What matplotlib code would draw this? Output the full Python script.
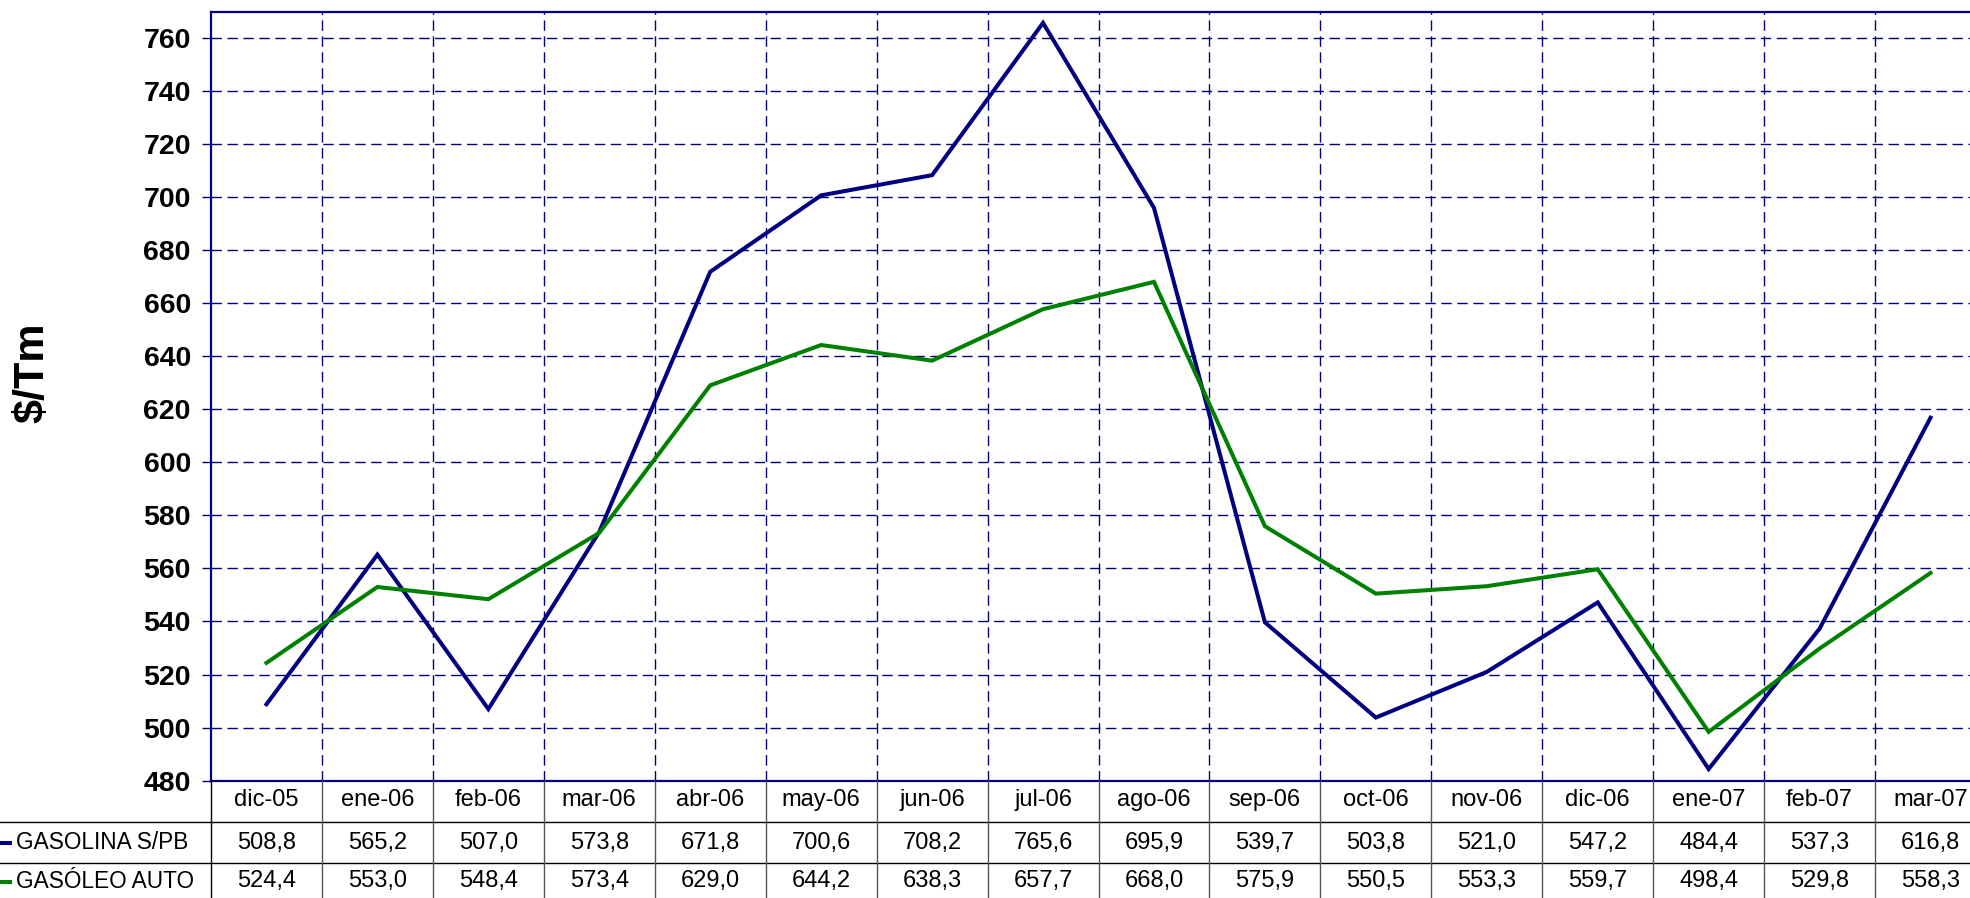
import numpy as np
import matplotlib.pyplot as plt
from matplotlib.lines import Line2D
from matplotlib.transforms import blended_transform_factory

plt.rcParams['font.family'] = ['Liberation Sans', 'DejaVu Sans']

# ───────────────────────────────────────────────────────
# 데이터
months = ["dic-05", "ene-06", "feb-06", "mar-06", "abr-06", "may-06", "jun-06", "jul-06",
          "ago-06", "sep-06", "oct-06", "nov-06", "dic-06", "ene-07", "feb-07", "mar-07"]
gasolina = [508.8, 565.2, 507.0, 573.8, 671.8, 700.6, 708.2, 765.6,
            695.9, 539.7, 503.8, 521.0, 547.2, 484.4, 537.3, 616.8]
gasoleo = [524.4, 553.0, 548.4, 573.4, 629.0, 644.2, 638.3, 657.7,
           668.0, 575.9, 550.5, 553.3, 559.7, 498.4, 529.8, 558.3]
series_names = ["GASOLINA S/PB", "GASÓLEO AUTO"]
series_colors = ["#000080", "#008000"]
y_ticks = np.arange(480, 761, 20)

W, H = 1970, 898
fig = plt.figure(figsize=(W / 100, H / 100), dpi=100)
ax = fig.add_axes([211 / W, (H - 780.7) / H, 1775 / W, 768.7 / H])

x = np.arange(len(months))
for vals, c in zip([gasolina, gasoleo], series_colors):
    ax.plot(x, vals, color=c, lw=2.9, solid_joinstyle='miter', zorder=3)

ax.set_xlim(-0.5, len(months) - 0.5)
ax.set_ylim(480, 769.7)
ax.set_yticks(y_ticks)
ax.set_yticklabels([str(v) for v in y_ticks], fontsize=20.5, fontweight='bold')
ax.set_xticks([])
ax.set_xticks(np.arange(0.5, len(months) - 0.5, 1), minor=True)
ax.tick_params(axis='x', which='both', length=0, labelbottom=False)
ax.tick_params(axis='y', length=6.5, width=1, color='#000080', pad=8)

grid_style = dict(color='#000080', lw=1.0, linestyle=(0, (7.5, 4)))
ax.grid(True, axis='y', which='major', **grid_style)
ax.grid(True, axis='x', which='minor', **grid_style)
ax.set_axisbelow(True)

for side in ['left', 'top', 'bottom']:
    ax.spines[side].set_color('#000080')
    ax.spines[side].set_linewidth(1.6)
ax.spines['right'].set_visible(False)

fig.text(32 / W, 1 - 373 / H, "$/Tm", rotation=90, fontsize=31, fontweight='bold',
         ha='center', va='center')

# ───────────────────────────────────────────────────────
# 데이터 테이블
tr = blended_transform_factory(ax.transData, fig.transFigure)
y_axis = (H - 780.7) / H
row_lines = [(H - 822) / H, (H - 863) / H]
text_y = [(H - 800) / H, (H - 842.5) / H, (H - 881.5) / H]
fs_table = 17

for yl in row_lines:
    fig.add_artist(Line2D([0, 1], [yl, yl], transform=fig.transFigure, color='black', lw=1))
fig.add_artist(Line2D([-0.5, -0.5], [0, y_axis], transform=tr, color='black', lw=1))
for xb in np.arange(0.5, len(months) - 0.5, 1):
    fig.add_artist(Line2D([xb, xb], [0, y_axis], transform=tr, color='#555555', lw=1))

for i, m in enumerate(months):
    fig.text(i, text_y[0], m, transform=tr, ha='center', va='center', fontsize=fs_table)
    fig.text(i, text_y[1], f"{gasolina[i]:.1f}".replace('.', ','), transform=tr,
             ha='center', va='center', fontsize=fs_table)
    fig.text(i, text_y[2], f"{gasoleo[i]:.1f}".replace('.', ','), transform=tr,
             ha='center', va='center', fontsize=fs_table)

for name, c, ty in zip(series_names, series_colors, text_y[1:]):
    fig.add_artist(Line2D([0, 10 / W], [ty, ty], transform=fig.transFigure, color=c, lw=2.9))
    fig.text(16.5 / W, ty, name, ha='left', va='center', fontsize=16.3)

fig.savefig("out.png", dpi=100)
